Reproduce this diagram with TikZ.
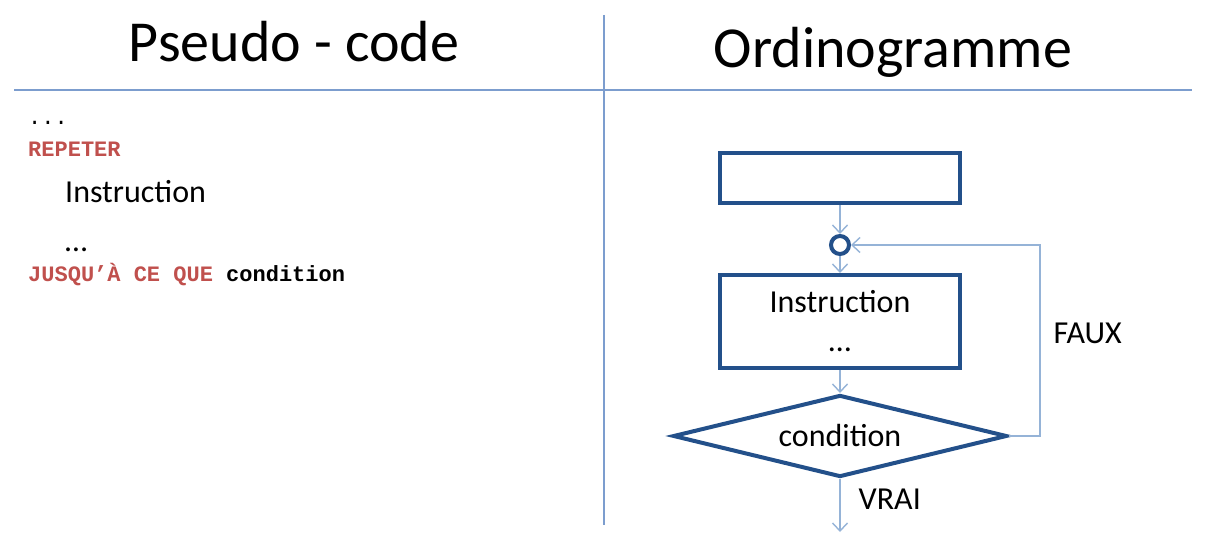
\documentclass[tikz,border=0pt]{standalone}
\usepackage{fontspec}
\setmainfont{Carlito}
\newfontfamily\codefont{Liberation Mono}
\usepackage{tikz}
\usetikzlibrary{shapes.geometric}
\usetikzlibrary{arrows.meta}
\usetikzlibrary{positioning}
\definecolor{BoxBlue}{HTML}{23508A}
\definecolor{LineBlue}{HTML}{95B3D7}
\definecolor{RuleBlue}{HTML}{7C9DCE}
\definecolor{KeyRed}{HTML}{C0504D}

\tikzset{
  flowbox/.style={draw=BoxBlue, line width=4pt, minimum width=240pt, inner sep=0pt},
  flowline/.style={LineBlue, line width=1.4pt, -{Straight Barb[length=8pt,width=15pt]}},
  bigtext/.style={font=\fontsize{58}{70}\selectfont},
  plain/.style={font=\fontsize{32}{39}\selectfont},
  code/.style={font=\codefont\bfseries\fontsize{22}{26}\selectfont, anchor=base west, inner sep=0pt},
}

\begin{document}
\begin{tikzpicture}[x=1pt,y=-1pt]
      \useasboundingbox (0,0) rectangle (1211,553);
      % dividers
      \draw[RuleBlue, line width=1.3pt] (604,15) -- (604,525);
      \draw[RuleBlue, line width=1.3pt] (14,90) -- (1192,90);
      \node[bigtext, anchor=base] (tpseudo) at (294,62) {Pseudo - code};
      \node[bigtext, anchor=base] (tordino) at (893,68) {Ordinogramme};
      % pseudo-code
      \node[code, font=\codefont\fontsize{22}{26}\selectfont] (pdots) at (28,125) {...};
      \node[code, KeyRed] (prepeat) at (28,157) {REPETER};
      \node[plain, anchor=base west, inner sep=0pt] (pinstr) at (65,203) {Instruction};
      \node[plain, anchor=base west, inner sep=0pt] (pmore) at (65,252) {…};
      \node[code] (puntil) at (28,282) {\textcolor{KeyRed}{JUSQU’À CE QUE} condition};
      % ordinogramme
      \node[flowbox, minimum height=50pt] (start) at (840,178) {};
      \node[circle, draw=BoxBlue, line width=4pt, minimum size=18pt, inner sep=0pt] (join) at (840,245) {};
      \node[flowbox, minimum height=93pt, plain, align=center] (instr) at (840,321.5) {Instruction\\…};
      \node[diamond, draw=BoxBlue, line width=4pt, aspect=4.07, minimum width=334pt, minimum height=82pt,
        inner sep=0pt, plain] (cond) at (840,436) {condition};
      \coordinate (out) at (840,532);
      \draw[flowline] (start) -- (join);
      \draw[flowline] (join) -- (instr);
      \draw[flowline] (instr) -- (cond);
      \draw[flowline] (cond) -- (out)
      node[pos=0.58, anchor=base west, xshift=18pt, inner sep=0pt, plain, black] {VRAI};
      \draw[flowline] (cond.east) -- ++(31,0) |- (join)
      node[pos=0.27, anchor=west, xshift=13pt, inner sep=0pt, plain, black] {FAUX};
\end{tikzpicture}
\end{document}
